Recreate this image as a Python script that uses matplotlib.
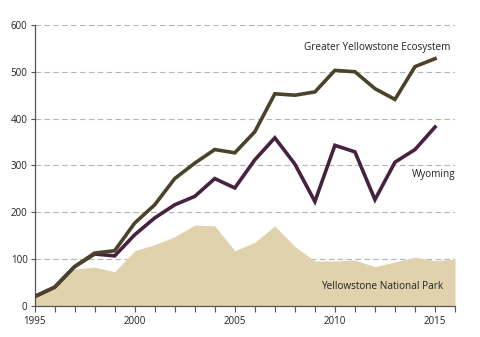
import matplotlib
matplotlib.use("Agg")
import matplotlib.pyplot as plt

years = list(range(1995, 2016))
gye = [20, 40, 84, 113, 118, 177, 216, 272, 305, 334, 327, 372, 453, 450, 457, 503, 500, 464, 441, 511, 528]
wyoming = [20, 40, 84, 111, 107, 152, 188, 216, 234, 272, 252, 312, 359, 303, 223, 343, 329, 227, 307, 334, 382]
ynp_years = list(range(1995, 2017))
ynp = [20, 38, 79, 83, 73, 118, 131, 148, 173, 171, 118, 136, 171, 127, 96, 96, 98, 84, 94, 104, 97, 100]

yticks = [0, 100, 200, 300, 400, 500, 600]
xticks = [1995, 2000, 2005, 2010, 2015]

plt.rcParams['font.family'] = ['Open Sans', 'DejaVu Sans']

fig = plt.figure(figsize=(4.8, 3.37), dpi=100)
ax = fig.add_axes([0.072, 0.092, 0.876, 0.834])

ax.fill_between(ynp_years, ynp, 0, color="#dfd2ad", linewidth=0, zorder=2)
ax.plot(years, gye, color="#4b4329", linewidth=2.6, zorder=4, solid_joinstyle='miter')
ax.plot(years, wyoming, color="#462240", linewidth=2.6, zorder=3, solid_joinstyle='miter')

for v in yticks[1:]:
    ax.axhline(v, color="#b5b5b5", linewidth=0.8, dashes=(5, 3), zorder=1)

ax.set_xlim(1995, 2016)
ax.set_ylim(0, 600)
ax.set_yticks(yticks)
ax.set_xticks(xticks)
ax.set_xticks(list(range(1995, 2017)), minor=True)
ax.tick_params(axis='x', which='both', length=4, width=0.8, color="#555555", direction='out', labelsize=7, pad=3, labelcolor="#222222")
ax.tick_params(axis='y', length=3, width=0.8, color="#555555", labelsize=7, pad=2, labelcolor="#222222")

for s in ['top', 'right']:
    ax.spines[s].set_visible(False)
for s in ['left', 'bottom']:
    ax.spines[s].set_color("#555555")
    ax.spines[s].set_linewidth(0.9)

ax.text(2015.75, 551, "Greater Yellowstone Ecosystem", ha='right', va='center', fontsize=7.2, color="#222222")
ax.text(2016, 281, "Wyoming", ha='right', va='center', fontsize=7.2, color="#222222")
ax.text(2015.4, 41, "Yellowstone National Park", ha='right', va='center', fontsize=7.2, color="#222222")

fig.savefig("out.png", dpi=100)
